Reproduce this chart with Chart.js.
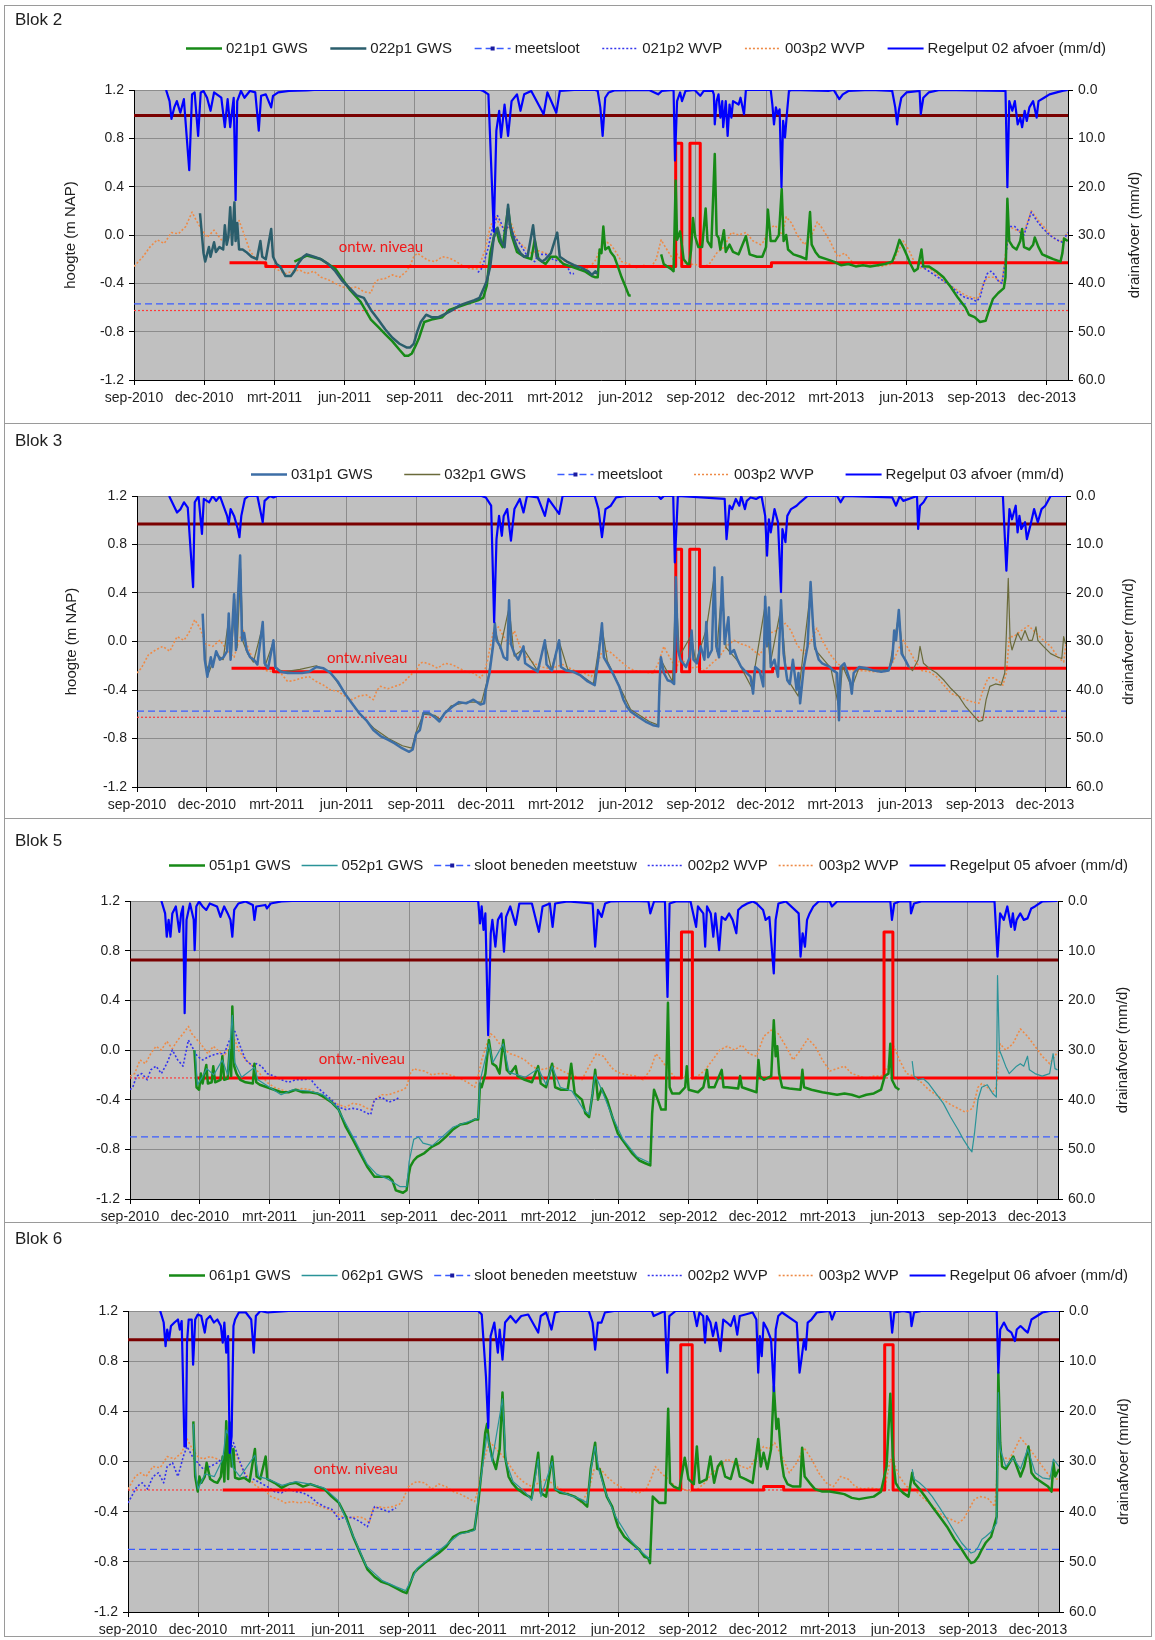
<!DOCTYPE html>
<html>
<head>
<meta charset="utf-8">
<title>Blok 2, 3, 5, 6 - grondwaterstand en drainafvoer</title>
<script src="https://cdn.jsdelivr.net/npm/chart.js@4.4.1/dist/chart.umd.min.js"></script>
<style>
  body { margin: 0; background: #fff; }
  #page { position: relative; width: 1155px; height: 1640px; overflow: hidden; }
  #page canvas { position: absolute; left: 0; }
  .frame { position: absolute; border: 1px solid #9a9a9a; box-sizing: border-box; pointer-events: none; }
  .sep { position: absolute; height: 1px; background: #9a9a9a; }
</style>
</head>
<body>
<div id="page"></div>
<script>
// x values are months counted from 1 sep 2010 (3 = dec-2010, 6 = mrt-2011, ...)
const MONTH_TICKS = [0, 3, 6, 9, 12, 15, 18, 21, 24, 27, 30, 33, 36, 39];
const MONTH_LABELS = ['sep-2010', 'dec-2010', 'mrt-2011', 'jun-2011', 'sep-2011', 'dec-2011', 'mrt-2012',
  'jun-2012', 'sep-2012', 'dec-2012', 'mrt-2013', 'jun-2013', 'sep-2013', 'dec-2013'];
const X_MAX = 39.9;
const LEVEL_TICKS = [-1.2, -0.8, -0.4, 0, 0.4, 0.8, 1.2];   // hoogte (m NAP)
const FLOW_TICKS = [0, 10, 20, 30, 40, 50, 60];             // drainafvoer (mm/d)

// ---------- Blok 2 ----------
const B2_SLOOT = -0.57;
const B2_RED_DOT = -0.625;
const B2_UPPER = 0.99;
const b2_gws021 = [[6.85,-0.22],[7.38,-0.17],[7.99,-0.20],[8.60,-0.28],[9.21,-0.45],[9.67,-0.55],[10.12,-0.70],[10.43,-0.76],[10.73,-0.82],[11.04,-0.88],[11.34,-0.95],[11.57,-1.0],[11.72,-1.0],[11.87,-0.98],[12.02,-0.92],[12.18,-0.85],[12.40,-0.72],[12.71,-0.70],[13.17,-0.68],[13.47,-0.62],[13.77,-0.60],[14.23,-0.57],[14.69,-0.54],[14.92,-0.52],[15.07,-0.42],[15.22,-0.15],[15.37,-0.02],[15.48,0.05],[15.60,-0.05],[15.75,-0.10],[15.98,0.22],[16.13,0.0],[16.36,-0.14],[16.67,-0.18],[16.97,-0.20],[17.12,-0.04],[17.28,-0.20],[17.58,-0.24],[17.81,-0.18],[18.04,-0.18],[18.34,-0.24],[18.65,-0.26],[18.95,-0.28],[19.25,-0.30],[19.56,-0.34],[19.71,-0.35],[19.81,-0.35],[19.89,-0.12],[19.97,-0.15],[20.05,0.07],[20.13,-0.12],[20.28,-0.10],[20.36,-0.14],[20.52,-0.18],[20.67,-0.26],[20.83,-0.35],[20.98,-0.42],[21.14,-0.50],[21.22,-0.50],[21.5,null],
  [22.52,-0.16],[22.63,-0.24],[22.78,-0.26],[22.94,-0.28],[23.05,-0.30],[23.14,0.45],[23.20,-0.04],[23.33,0.03],[23.48,-0.20],[23.64,-0.24],[23.72,-0.24],[23.80,-0.12],[23.88,0.14],[23.98,-0.02],[24.11,-0.10],[24.27,-0.10],[24.42,0.22],[24.50,-0.05],[24.66,-0.10],[24.81,0.67],[24.89,0.0],[24.97,-0.02],[25.05,-0.12],[25.20,0.04],[25.28,-0.14],[25.44,-0.08],[25.59,-0.14],[25.83,-0.16],[26.14,-0.01],[26.30,-0.16],[26.61,-0.18],[26.84,-0.18],[27.00,-0.10],[27.08,0.21],[27.20,-0.05],[27.39,-0.05],[27.55,0.0],[27.67,0.38],[27.75,-0.05],[27.86,0.0],[27.94,-0.12],[28.17,-0.16],[28.48,-0.18],[28.72,-0.20],[28.88,0.19],[28.95,-0.08],[29.11,-0.14],[29.27,-0.18],[29.58,-0.20],[29.89,-0.22],[30.20,-0.25],[30.52,-0.24],[30.83,-0.26],[31.14,-0.25],[31.45,-0.26],[31.77,-0.25],[32.08,-0.24],[32.39,-0.22],[32.55,-0.14],[32.70,-0.04],[32.86,-0.10],[33.02,-0.17],[33.17,-0.24],[33.33,-0.30],[33.48,-0.28],[33.64,-0.12],[33.72,-0.26],[33.95,-0.26],[34.27,-0.30],[34.58,-0.35],[34.89,-0.43],[35.20,-0.52],[35.52,-0.60],[35.67,-0.66],[35.91,-0.68],[36.14,-0.72],[36.38,-0.71],[36.53,-0.62],[36.69,-0.53],[36.92,-0.48],[37.16,-0.44],[37.23,-0.35],[37.31,0.30],[37.39,-0.05],[37.55,-0.10],[37.70,-0.12],[37.86,-0.05],[37.94,0.05],[38.02,-0.10],[38.25,-0.12],[38.41,-0.08],[38.48,-0.02],[38.64,-0.10],[38.80,-0.16],[39.03,-0.18],[39.27,-0.20],[39.58,-0.22],[39.66,-0.15],[39.73,-0.03],[39.89,-0.05]];
const b2_gws022 = [[2.82,0.18],[2.97,-0.15],[3.04,-0.22],[3.20,-0.10],[3.27,-0.18],[3.42,-0.06],[3.50,-0.14],[3.65,-0.10],[3.81,-0.12],[3.88,0.08],[3.96,-0.08],[4.03,-0.02],[4.11,0.23],[4.19,-0.08],[4.29,0.27],[4.34,-0.05],[4.41,0.10],[4.49,-0.12],[4.64,-0.12],[4.79,-0.14],[5.02,-0.18],[5.25,-0.20],[5.40,-0.05],[5.48,-0.18],[5.63,-0.20],[5.86,0.05],[5.94,-0.18],[6.09,-0.24],[6.24,-0.26],[6.47,-0.34],[6.70,-0.34],[6.85,-0.30],[7.00,-0.24],[7.23,-0.18],[7.38,-0.16],[7.69,-0.18],[7.99,-0.20],[8.30,-0.24],[8.60,-0.30],[8.90,-0.38],[9.21,-0.44],[9.51,-0.50],[9.82,-0.52],[10.12,-0.62],[10.43,-0.70],[10.73,-0.78],[11.04,-0.85],[11.34,-0.90],[11.64,-0.93],[11.80,-0.93],[11.95,-0.90],[12.10,-0.80],[12.25,-0.72],[12.48,-0.66],[12.71,-0.68],[13.01,-0.68],[13.32,-0.65],[13.62,-0.62],[13.93,-0.58],[14.23,-0.56],[14.54,-0.54],[14.76,-0.52],[14.92,-0.45],[15.07,-0.38],[15.22,-0.26],[15.37,-0.02],[15.53,0.06],[15.68,-0.05],[15.83,-0.10],[15.98,0.25],[16.06,0.08],[16.21,-0.02],[16.36,-0.10],[16.51,-0.15],[16.67,-0.18],[16.82,-0.17],[17.05,0.08],[17.20,-0.18],[17.43,-0.22],[17.58,-0.20],[17.81,-0.15],[18.08,0.02],[18.19,-0.18],[18.49,-0.22],[18.80,-0.25],[19.10,-0.27],[19.41,-0.30],[19.56,-0.33],[19.71,-0.30],[19.80,-0.32]];
const b2_wvp021 = [[14.69,-0.31],[14.84,-0.28],[14.99,-0.20],[15.14,-0.10],[15.30,0.05],[15.53,0.16],[15.68,0.10],[15.83,0.02],[16.06,0.10],[16.21,0.0],[16.51,-0.08],[16.82,-0.18],[17.12,-0.22],[17.28,-0.16],[17.58,-0.16],[17.88,-0.20],[18.19,-0.22],[18.49,-0.25],[18.65,-0.32],[18.80,-0.32],[26.0,null],
  [33.48,-0.24],[33.80,-0.28],[34.27,-0.34],[34.58,-0.38],[34.89,-0.42],[35.20,-0.48],[35.52,-0.52],[35.83,-0.53],[35.98,-0.55],[36.14,-0.52],[36.30,-0.40],[36.45,-0.32],[36.61,-0.30],[36.77,-0.33],[36.92,-0.38],[37.08,-0.40],[37.23,-0.20],[37.39,0.07],[37.63,0.07],[37.86,0.02],[38.02,0.0],[38.33,0.19],[38.56,0.12],[38.80,0.06],[39.11,0.0],[39.42,-0.04],[39.66,-0.06],[39.89,0.02]];
const b2_wvp003 = [[0,-0.26],[0.38,-0.18],[0.68,-0.10],[0.99,-0.04],[1.29,-0.07],[1.60,0.02],[1.90,0.01],[2.21,0.07],[2.48,0.19],[2.66,0.12],[2.82,0.07],[3.12,-0.02],[3.42,0.04],[3.73,-0.04],[4.03,-0.02],[4.34,0.04],[4.49,0.12],[4.64,0.04],[4.95,-0.13],[5.25,-0.21],[5.56,-0.24],[5.86,-0.26],[6.16,-0.29],[6.47,-0.32],[6.77,-0.30],[7.08,-0.29],[7.38,-0.32],[7.69,-0.30],[7.99,-0.35],[8.30,-0.37],[8.60,-0.40],[8.90,-0.43],[9.21,-0.44],[9.51,-0.43],[9.82,-0.47],[10.12,-0.48],[10.27,-0.40],[10.43,-0.37],[10.73,-0.36],[11.04,-0.33],[11.34,-0.35],[11.64,-0.30],[11.80,-0.25],[11.95,-0.18],[12.10,-0.15],[12.25,-0.17],[12.56,-0.21],[12.86,-0.22],[13.17,-0.18],[13.47,-0.19],[13.77,-0.22],[14.08,-0.26],[14.38,-0.28],[14.69,-0.28],[14.99,-0.13],[15.22,0.07],[15.45,0.16],[15.60,0.09],[15.91,0.04],[16.13,0.09],[16.36,-0.04],[16.67,-0.10],[16.97,-0.15],[17.28,-0.13],[17.58,-0.15],[17.88,-0.18],[18.19,-0.21],[18.49,-0.22],[18.80,-0.25],[19.10,-0.26],[19.41,-0.28],[19.71,-0.21],[20.02,-0.07],[20.20,-0.06],[20.36,-0.08],[20.52,-0.12],[20.83,-0.22],[21.14,-0.24],[21.45,-0.27],[21.77,-0.25],[22.08,-0.27],[22.31,-0.20],[22.52,-0.04],[22.70,-0.10],[23.02,-0.20],[23.17,-0.15],[23.33,-0.20],[23.48,-0.22],[23.64,-0.25],[23.95,-0.24],[24.27,-0.27],[24.58,-0.24],[24.89,-0.15],[25.20,-0.10],[25.52,0.02],[25.83,0.0],[26.14,0.02],[26.45,-0.05],[26.77,-0.08],[26.92,-0.05],[27.08,0.05],[27.39,0.08],[27.70,0.0],[27.86,0.15],[28.09,0.10],[28.33,0.0],[28.64,-0.08],[28.95,0.0],[29.19,0.11],[29.42,0.05],[29.73,-0.05],[30.05,-0.18],[30.36,-0.15],[30.67,-0.22],[30.98,-0.25],[31.45,-0.25],[31.92,-0.26],[32.39,-0.24],[32.63,-0.14],[32.86,-0.05],[33.09,-0.12],[33.33,-0.22],[33.64,-0.28],[33.95,-0.27],[34.27,-0.32],[34.58,-0.38],[34.89,-0.42],[35.20,-0.46],[35.52,-0.50],[35.83,-0.52],[36.06,-0.52],[36.30,-0.40],[36.45,-0.35],[36.77,-0.35],[37.08,-0.40],[37.23,-0.15],[37.39,0.07],[37.70,0.04],[38.02,0.02],[38.33,0.20],[38.64,0.12],[38.95,0.05],[39.27,-0.02],[39.58,-0.06],[39.89,0.02]];
const b2_flow = [[1.37,0],[1.52,2.3],[1.60,6.0],[1.72,3.6],[1.83,2.3],[1.98,4.7],[2.13,1.9],[2.36,16.6],[2.48,0.9],[2.59,0.5],[2.74,9.5],[2.85,0.5],[2.97,0.2],[3.12,1.6],[3.27,4.3],[3.42,0.5],[3.73,1.6],[3.88,7.7],[4.00,1.9],[4.11,7.7],[4.19,4.3],[4.26,1.6],[4.34,22.8],[4.41,2.3],[4.57,0.2],[4.72,1.6],[4.95,0.2],[5.18,0.5],[5.33,8.4],[5.43,1.2],[5.63,0.9],[5.86,3.6],[5.94,1.2],[6.16,0.5],[6.62,0.2],[7.38,0.1],[7.69,0],[14.80,0],[14.92,0.2],[15.14,0.9],[15.37,29.3],[15.48,8.4],[15.60,4.3],[15.68,9.8],[15.83,3.0],[15.98,9.5],[16.13,2.3],[16.36,0.9],[16.51,4.3],[16.67,0.9],[16.97,0.2],[17.50,5.0],[17.66,0.5],[18.04,4.7],[18.19,0.2],[18.80,0],[19.70,0],[19.81,0.2],[19.92,3.6],[20.02,9.5],[20.13,1.6],[20.28,0.5],[20.52,0.1],[22.00,0],[22.23,0.5],[22.39,0.9],[22.55,0.2],[23.05,0],[23.11,14.6],[23.20,2.3],[23.33,0.5],[23.41,2.3],[23.56,0.2],[23.95,0],[24.19,1.2],[24.34,0.2],[24.72,0.2],[24.77,0.9],[24.81,7.1],[24.89,2.3],[24.97,0.9],[25.05,5.7],[25.13,2.3],[25.17,7.7],[25.28,2.3],[25.36,9.5],[25.44,3.0],[25.52,5.7],[25.59,2.3],[25.83,3.0],[25.91,1.6],[26.06,5.0],[26.14,0],[27.20,0],[27.27,3.0],[27.34,7.1],[27.42,3.6],[27.50,5.0],[27.58,4.0],[27.66,20.1],[27.73,6.4],[27.81,9.8],[27.89,5.0],[27.98,0.2],[28.09,0],[29.66,0.2],[29.89,0],[30.13,1.9],[30.28,0.9],[30.52,0.2],[31.45,0],[32.39,0.2],[32.52,3.6],[32.60,7.1],[32.67,4.3],[32.78,1.6],[33.00,0.5],[33.56,0.2],[33.61,5.0],[33.72,1.6],[33.95,0.5],[34.42,0],[37.23,0.2],[37.31,20.1],[37.39,2.3],[37.52,4.3],[37.63,2.3],[37.75,7.1],[37.86,5.7],[37.94,7.7],[38.05,4.3],[38.14,6.4],[38.25,3.6],[38.41,2.3],[38.56,5.7],[38.64,2.3],[38.88,1.6],[39.11,0.9],[39.42,0.5],[39.66,0.2],[39.89,0]];
const b2_ontw = [[4.08,-0.23],[5.63,-0.23],[5.63,-0.26],[23.14,-0.26],[23.14,0.76],[23.40,0.76],[23.40,-0.26],[23.75,-0.26],[23.75,0.76],[24.19,0.76],[24.19,-0.26],[27.23,-0.26],[27.23,-0.23],[39.9,-0.23]];

// ---------- Blok 3 ----------
const B3_SLOOT = -0.575;
const B3_RED_DOT = -0.625;
const B3_UPPER = 0.97;
const b3_gws031 = [[2.82,0.23],[2.91,-0.15],[3.02,-0.29],[3.17,-0.13],[3.25,-0.21],[3.40,-0.08],[3.56,-0.15],[3.71,-0.13],[3.87,-0.08],[3.94,0.23],[4.02,-0.15],[4.17,0.39],[4.25,-0.07],[4.33,0.34],[4.43,0.71],[4.51,0.01],[4.60,0.07],[4.71,-0.07],[4.86,-0.13],[5.02,-0.15],[5.17,-0.19],[5.40,0.16],[5.48,-0.18],[5.63,-0.22],[5.86,0.01],[5.94,-0.21],[6.17,-0.25],[6.47,-0.26],[6.78,-0.26],[7.09,-0.26],[7.39,-0.25],[7.70,-0.21],[8.01,-0.22],[8.31,-0.26],[8.62,-0.33],[8.93,-0.43],[9.23,-0.51],[9.54,-0.59],[9.85,-0.65],[10.15,-0.73],[10.46,-0.78],[10.77,-0.81],[11.07,-0.84],[11.38,-0.88],[11.69,-0.91],[11.84,-0.89],[11.99,-0.76],[12.15,-0.73],[12.30,-0.59],[12.53,-0.59],[12.76,-0.62],[12.99,-0.66],[13.22,-0.59],[13.53,-0.54],[13.83,-0.50],[14.14,-0.51],[14.45,-0.48],[14.75,-0.52],[14.91,-0.51],[14.98,-0.40],[15.14,-0.26],[15.29,-0.04],[15.37,0.15],[15.44,0.01],[15.60,-0.04],[15.75,-0.13],[15.90,-0.15],[15.98,0.34],[16.06,-0.02],[16.21,-0.10],[16.37,-0.15],[16.60,-0.04],[16.67,-0.18],[16.90,-0.21],[17.21,-0.25],[17.52,0.01],[17.59,-0.19],[17.82,-0.24],[18.13,0.01],[18.21,-0.21],[18.44,-0.24],[18.74,-0.25],[19.05,-0.28],[19.36,-0.33],[19.66,-0.36],[19.82,-0.13],[19.97,0.15],[20.05,-0.13],[20.20,-0.18],[20.43,-0.26],[20.71,-0.37],[20.89,-0.48],[21.05,-0.54],[21.21,-0.58],[21.52,-0.62],[21.84,-0.66],[22.16,-0.69],[22.39,-0.70],[22.44,-0.37],[22.50,-0.13],[22.63,-0.26],[22.79,-0.32],[22.95,-0.33],[23.07,-0.35],[23.14,0.53],[23.23,-0.07],[23.34,-0.15],[23.58,-0.21],[23.74,-0.13],[23.82,0.09],[23.90,-0.15],[24.05,-0.18],[24.21,-0.04],[24.37,-0.15],[24.45,0.16],[24.53,-0.13],[24.69,-0.07],[24.80,0.61],[24.88,-0.04],[25.00,-0.13],[25.13,0.53],[25.24,-0.02],[25.40,0.20],[25.48,-0.10],[25.64,-0.07],[25.79,-0.15],[25.95,-0.21],[26.19,-0.26],[26.35,-0.29],[26.46,-0.43],[26.55,-0.21],[26.74,-0.24],[26.90,-0.37],[26.98,0.37],[27.06,-0.04],[27.14,0.28],[27.22,-0.21],[27.38,-0.15],[27.53,-0.29],[27.66,0.34],[27.77,-0.10],[27.93,-0.32],[28.04,-0.35],[28.17,-0.15],[28.33,-0.40],[28.41,-0.26],[28.48,-0.51],[28.64,-0.21],[28.80,-0.04],[28.93,0.49],[29.04,0.12],[29.12,-0.04],[29.28,-0.15],[29.43,-0.18],[29.75,-0.21],[29.91,-0.24],[30.07,-0.26],[30.15,-0.65],[30.22,-0.21],[30.38,-0.18],[30.62,-0.32],[30.70,-0.43],[30.78,-0.26],[31.02,-0.21],[31.33,-0.22],[31.65,-0.24],[31.96,-0.25],[32.28,-0.24],[32.44,-0.15],[32.52,0.09],[32.60,0.01],[32.72,0.26],[32.84,-0.10],[32.99,-0.15],[33.15,-0.21]];
const b3_gws032 = [[2.82,0.20],[2.95,-0.18],[3.10,-0.25],[3.40,-0.10],[3.70,-0.15],[3.95,0.20],[4.05,-0.12],[4.20,0.35],[4.30,-0.05],[4.45,0.60],[4.55,0.0],[4.75,-0.10],[5.00,-0.17],[5.40,0.13],[5.50,-0.20],[5.86,0.0],[5.95,-0.22],[6.30,-0.25],[7.00,-0.23],[7.70,-0.20],[8.30,-0.25],[8.90,-0.42],[9.50,-0.58],[10.20,-0.72],[10.80,-0.80],[11.40,-0.86],[11.80,-0.88],[12.00,-0.74],[12.30,-0.60],[12.80,-0.61],[13.00,-0.64],[13.50,-0.53],[14.20,-0.50],[14.80,-0.50],[15.10,-0.28],[15.37,0.10],[15.60,-0.06],[15.98,0.28],[16.20,-0.12],[16.60,-0.06],[17.20,-0.24],[17.52,0.0],[17.80,-0.23],[18.13,0.0],[18.50,-0.23],[19.00,-0.27],[19.60,-0.35],[19.97,0.12],[20.20,-0.16],[20.70,-0.36],[21.20,-0.56],[22.00,-0.66],[22.39,-0.69],[22.50,-0.15],[23.00,-0.33],[23.14,0.45],[23.30,-0.12],[23.80,0.05],[24.00,-0.17],[24.45,0.10],[24.80,0.55],[24.90,-0.08],[25.13,0.45],[25.30,-0.05],[25.80,-0.16],[26.40,-0.38],[26.98,0.30],[27.20,-0.18],[27.66,0.28],[27.90,-0.30],[28.40,-0.45],[28.93,0.42],[29.10,-0.06],[29.80,-0.22],[30.15,-0.55],[30.30,-0.20],[30.70,-0.38],[31.00,-0.22],[31.60,-0.24],[32.30,-0.23],[32.72,0.22],[32.90,-0.12],[33.15,-0.21],[33.31,-0.24],[33.55,-0.15],[33.63,-0.04],[33.78,-0.18],[34.02,-0.22],[34.34,-0.26],[34.66,-0.32],[34.97,-0.39],[35.29,-0.45],[35.60,-0.54],[35.92,-0.61],[36.16,-0.66],[36.32,-0.65],[36.47,-0.48],[36.63,-0.37],[36.87,-0.35],[37.11,-0.36],[37.27,-0.26],[37.34,0.07],[37.42,0.52],[37.50,0.01],[37.58,-0.07],[37.82,0.07],[37.98,0.01],[38.14,0.09],[38.30,0.01],[38.45,0.01],[38.61,0.12],[38.69,0.01],[38.93,-0.04],[39.24,-0.10],[39.56,-0.13],[39.72,-0.14],[39.80,0.04],[39.88,-0.02]];
const b3_wvp003 = [[0,-0.26],[0.18,-0.22],[0.49,-0.11],[0.80,-0.07],[1.10,-0.04],[1.41,-0.08],[1.72,0.04],[2.02,0.01],[2.25,0.08],[2.48,0.18],[2.71,0.11],[2.94,-0.02],[3.25,-0.04],[3.56,0.01],[3.87,-0.07],[4.17,-0.13],[4.33,-0.02],[4.56,0.09],[4.71,-0.02],[4.94,-0.13],[5.25,-0.21],[5.55,-0.24],[5.86,-0.25],[6.17,-0.26],[6.47,-0.33],[6.78,-0.32],[7.09,-0.30],[7.39,-0.29],[7.70,-0.33],[8.01,-0.36],[8.31,-0.40],[8.62,-0.41],[8.93,-0.45],[9.23,-0.48],[9.54,-0.45],[9.85,-0.44],[10.15,-0.48],[10.31,-0.40],[10.46,-0.37],[10.77,-0.39],[11.07,-0.37],[11.38,-0.35],[11.69,-0.29],[11.84,-0.26],[11.99,-0.24],[12.15,-0.18],[12.30,-0.17],[12.61,-0.19],[12.91,-0.22],[13.22,-0.18],[13.53,-0.19],[13.83,-0.22],[14.14,-0.25],[14.45,-0.26],[14.75,-0.30],[14.91,-0.26],[15.06,-0.15],[15.29,0.07],[15.52,0.12],[15.75,0.04],[15.98,-0.02],[16.21,0.09],[16.44,-0.04],[16.75,-0.13],[17.06,-0.18],[17.36,-0.21],[17.67,-0.22],[17.98,-0.21],[18.28,-0.19],[18.59,-0.22],[18.90,-0.25],[19.20,-0.26],[19.51,-0.29],[19.74,-0.21],[19.97,-0.08],[20.28,-0.08],[20.58,-0.13],[21.05,-0.21],[21.36,-0.24],[21.68,-0.25],[22.16,-0.26],[22.39,-0.18],[22.63,-0.04],[22.79,-0.10],[23.03,-0.18],[23.18,-0.21],[23.34,-0.14],[23.58,-0.18],[23.74,-0.22],[24.05,-0.21],[24.37,-0.24],[24.69,-0.18],[25.00,-0.13],[25.32,-0.04],[25.64,0.01],[25.95,-0.02],[26.27,-0.04],[26.51,-0.08],[26.74,-0.11],[26.98,-0.04],[27.14,0.07],[27.38,0.08],[27.61,0.12],[27.85,0.15],[28.09,0.09],[28.33,-0.02],[28.64,-0.10],[28.96,0.01],[29.20,0.11],[29.43,0.01],[29.75,-0.10],[30.07,-0.18],[30.38,-0.22],[30.70,-0.24],[31.17,-0.24],[31.65,-0.25],[32.12,-0.25],[32.44,-0.18],[32.76,-0.04],[32.91,0.01],[33.07,-0.04],[33.39,-0.15],[33.71,-0.24],[34.02,-0.25],[34.34,-0.29],[34.66,-0.36],[34.97,-0.43],[35.29,-0.45],[35.60,-0.48],[35.92,-0.50],[36.16,-0.51],[36.32,-0.41],[36.55,-0.30],[36.79,-0.30],[37.03,-0.33],[37.19,-0.36],[37.34,-0.26],[37.47,0.04],[37.66,0.04],[37.98,0.09],[38.29,0.13],[38.61,0.07],[38.93,0.01],[39.24,-0.04],[39.56,-0.13],[39.80,-0.17],[39.90,-0.02]];
const b3_flow = [[1.38,0],[1.72,3.4],[1.87,2.7],[2.02,1.3],[2.18,2.4],[2.41,18.8],[2.48,1.3],[2.64,0],[2.79,7.8],[2.87,0.6],[3.10,1.3],[3.25,0],[3.40,1.0],[3.56,0],[3.71,2.0],[3.87,4.1],[3.94,5.8],[4.02,2.7],[4.17,4.1],[4.33,6.8],[4.40,8.5],[4.48,4.1],[4.63,0.6],[4.79,0],[5.17,0],[5.40,5.4],[5.48,1.0],[5.71,0],[5.86,0.3],[6.01,0],[14.80,0],[14.98,0.3],[15.21,2.0],[15.34,26.0],[15.44,8.9],[15.55,4.1],[15.67,8.2],[15.75,4.1],[15.90,2.7],[16.06,9.2],[16.21,2.7],[16.44,0.6],[16.60,3.4],[16.75,0],[17.21,0.3],[17.52,4.1],[17.67,0.6],[18.13,3.7],[18.28,0],[19.66,0],[19.82,2.7],[19.97,8.5],[20.12,2.7],[20.35,2.0],[20.58,0.3],[21.00,0],[22.39,0],[22.50,0.6],[22.63,0],[23.03,0],[23.10,13.7],[23.23,0],[25.24,0.6],[25.32,8.9],[25.45,2.0],[25.56,2.7],[25.72,0.6],[25.87,2.0],[25.95,0],[26.11,2.7],[26.19,1.0],[26.35,0.3],[26.59,0.6],[26.82,0],[26.98,4.1],[27.06,12.3],[27.14,4.8],[27.22,7.5],[27.38,2.7],[27.53,5.4],[27.66,19.8],[27.72,6.8],[27.85,9.5],[27.93,4.1],[28.09,2.7],[28.33,2.0],[28.48,1.3],[28.80,0],[30.07,0],[30.22,1.3],[30.38,0],[32.44,0.3],[32.60,2.0],[32.76,0],[32.91,1.0],[33.50,0],[33.55,6.8],[33.63,2.0],[33.78,1.3],[33.94,0],[37.19,0],[37.34,15.4],[37.47,2.7],[37.58,4.8],[37.74,2.0],[37.82,7.5],[37.90,4.1],[37.98,6.8],[38.14,5.4],[38.22,8.9],[38.37,6.1],[38.53,2.7],[38.69,5.4],[38.85,2.7],[39.01,2.0],[39.24,0],[39.90,0]];
const b3_ontw = [[4.06,-0.22],[5.86,-0.22],[5.86,-0.25],[23.14,-0.25],[23.14,0.76],[23.39,0.76],[23.39,-0.25],[23.74,-0.25],[23.74,0.76],[24.16,0.76],[24.16,-0.25],[27.30,-0.25],[27.30,-0.22],[39.9,-0.22]];

// ---------- Blok 5 ----------
const B5_SLOOT = -0.70;
const B5_RED_DOT = -0.225;
const B5_UPPER = 0.725;
const b5_gws051 = [[2.77,0.0],[2.86,-0.30],[2.97,-0.32],[3.05,-0.19],[3.12,-0.27],[3.28,-0.12],[3.35,-0.27],[3.51,-0.26],[3.58,-0.13],[3.66,-0.26],[3.89,-0.24],[3.97,-0.05],[4.05,-0.24],[4.20,-0.23],[4.28,0.0],[4.35,-0.21],[4.40,0.35],[4.48,-0.13],[4.58,-0.19],[4.74,-0.24],[4.97,-0.26],[5.28,-0.27],[5.35,-0.11],[5.43,-0.26],[5.58,-0.28],[5.89,-0.30],[6.20,-0.32],[6.51,-0.34],[6.82,-0.34],[7.12,-0.32],[7.43,-0.34],[7.74,-0.34],[8.05,-0.35],[8.35,-0.38],[8.66,-0.42],[8.97,-0.48],[9.28,-0.62],[9.58,-0.72],[9.89,-0.83],[10.20,-0.94],[10.51,-1.02],[10.82,-1.02],[11.12,-1.02],[11.28,-1.05],[11.43,-1.13],[11.58,-1.14],[11.74,-1.15],[11.89,-1.13],[11.97,-1.02],[12.05,-0.94],[12.20,-0.89],[12.35,-0.86],[12.66,-0.83],[12.97,-0.78],[13.28,-0.75],[13.58,-0.70],[13.89,-0.64],[14.20,-0.60],[14.51,-0.59],[14.82,-0.56],[14.97,-0.56],[15.05,-0.27],[15.12,-0.30],[15.28,-0.19],[15.43,0.08],[15.58,-0.11],[15.74,-0.13],[15.89,-0.19],[16.05,0.08],[16.20,-0.16],[16.35,-0.19],[16.58,-0.13],[16.66,-0.21],[16.97,-0.24],[17.28,-0.26],[17.55,-0.13],[17.66,-0.27],[17.89,-0.30],[18.15,-0.11],[18.28,-0.30],[18.51,-0.32],[18.82,-0.32],[18.97,-0.11],[19.12,-0.35],[19.43,-0.40],[19.58,-0.51],[19.74,-0.54],[19.89,-0.35],[20.00,-0.16],[20.12,-0.40],[20.28,-0.31],[20.51,-0.40],[20.74,-0.54],[20.97,-0.67],[21.27,-0.75],[21.58,-0.83],[21.90,-0.89],[22.13,-0.91],[22.37,-0.93],[22.45,-0.51],[22.53,-0.32],[22.69,-0.40],[22.84,-0.48],[23.03,-0.48],[23.13,0.38],[23.20,-0.30],[23.31,-0.35],[23.63,-0.35],[23.87,-0.30],[23.94,-0.13],[24.02,-0.32],[24.42,-0.34],[24.65,-0.30],[24.81,-0.16],[24.89,-0.30],[25.13,-0.30],[25.44,-0.16],[25.52,-0.30],[25.68,-0.30],[26.15,-0.31],[26.23,-0.21],[26.31,-0.30],[26.62,-0.32],[26.94,-0.34],[27.02,-0.08],[27.09,-0.21],[27.25,-0.24],[27.57,-0.21],[27.68,0.24],[27.76,-0.05],[27.83,0.03],[27.91,-0.19],[28.04,-0.30],[28.35,-0.31],[28.83,-0.32],[28.91,-0.16],[28.98,-0.30],[29.30,-0.32],[29.77,-0.34],[30.09,-0.35],[30.40,-0.36],[30.72,-0.35],[31.03,-0.36],[31.35,-0.38],[31.66,-0.36],[31.98,-0.35],[32.29,-0.32],[32.45,-0.21],[32.61,-0.19],[32.69,0.05],[32.76,-0.24],[32.92,-0.30],[33.08,-0.32]];
const b5_gws052 = [[2.80,0.0],[2.90,-0.28],[3.10,-0.22],[3.30,-0.15],[3.60,-0.20],[3.97,-0.08],[4.20,-0.20],[4.40,0.28],[4.50,-0.10],[4.80,-0.22],[5.35,-0.14],[5.50,-0.24],[6.00,-0.30],[6.50,-0.36],[7.00,-0.32],[7.70,-0.33],[8.30,-0.36],[8.90,-0.46],[9.30,-0.60],[9.70,-0.74],[10.20,-0.92],[10.60,-1.00],[11.10,-1.04],[11.60,-1.10],[11.90,-1.10],[12.00,-0.90],[12.20,-0.72],[12.40,-0.70],[12.60,-0.75],[13.00,-0.77],[13.30,-0.72],[13.90,-0.62],[14.50,-0.58],[14.97,-0.55],[15.05,-0.25],[15.43,0.05],[15.60,-0.10],[16.05,0.05],[16.30,-0.18],[17.00,-0.22],[17.55,-0.15],[17.90,-0.28],[18.15,-0.13],[18.50,-0.30],[19.00,-0.33],[19.50,-0.48],[19.75,-0.52],[20.00,-0.20],[20.30,-0.33],[20.70,-0.52],[21.20,-0.72],[21.80,-0.86],[22.37,-0.91],[28.0,null],
  [33.63,-0.09],[33.71,-0.21],[33.87,-0.24],[34.10,-0.23],[34.34,-0.27],[34.65,-0.35],[34.97,-0.43],[35.28,-0.54],[35.60,-0.64],[35.83,-0.72],[36.07,-0.79],[36.20,-0.82],[36.31,-0.67],[36.46,-0.40],[36.62,-0.30],[36.86,-0.28],[37.09,-0.35],[37.25,-0.38],[37.30,0.60],[37.38,0.0],[37.49,-0.05],[37.65,-0.13],[37.80,-0.19],[37.96,-0.16],[38.12,-0.13],[38.28,-0.11],[38.43,-0.13],[38.59,-0.05],[38.67,-0.16],[38.91,-0.19],[39.22,-0.21],[39.54,-0.19],[39.69,-0.03],[39.77,-0.15],[39.88,-0.16]];
const b5_wvp002 = [[0,-0.32],[0.12,-0.30],[0.28,-0.21],[0.51,-0.19],[0.74,-0.24],[0.89,-0.16],[1.12,-0.13],[1.35,-0.19],[1.58,-0.11],[1.82,0.0],[2.05,-0.08],[2.28,-0.13],[2.51,0.08],[2.66,0.03],[2.89,-0.05],[3.12,-0.08],[3.43,-0.05],[3.74,-0.03],[4.05,-0.03],[4.28,0.08],[4.51,0.15],[4.74,0.03],[4.97,-0.08],[5.28,-0.13],[5.43,-0.11],[5.66,-0.13],[5.89,-0.19],[6.20,-0.21],[6.51,-0.24],[6.82,-0.26],[7.12,-0.24],[7.43,-0.24],[7.74,-0.23],[8.05,-0.30],[8.35,-0.35],[8.66,-0.40],[8.97,-0.46],[9.28,-0.48],[9.58,-0.47],[9.89,-0.48],[10.20,-0.51],[10.35,-0.52],[10.51,-0.40],[10.82,-0.38],[11.12,-0.42],[11.43,-0.40],[11.58,-0.38]];
const b5_wvp003 = [[0,-0.21],[0.20,-0.19],[0.43,-0.08],[0.66,-0.11],[0.89,-0.03],[1.12,0.03],[1.35,0.0],[1.58,0.07],[1.82,0.01],[2.05,0.08],[2.28,0.13],[2.51,0.19],[2.66,0.13],[2.89,0.08],[3.12,0.03],[3.35,-0.03],[3.58,0.03],[3.82,-0.01],[4.05,-0.05],[4.28,0.03],[4.51,0.08],[4.66,0.0],[4.97,-0.08],[5.28,-0.13],[5.58,-0.19],[5.89,-0.26],[6.20,-0.30],[6.51,-0.32],[6.82,-0.34],[7.12,-0.32],[7.43,-0.31],[7.74,-0.32],[8.05,-0.35],[8.35,-0.39],[8.66,-0.42],[8.97,-0.44],[9.28,-0.46],[9.58,-0.43],[9.89,-0.44],[10.20,-0.47],[10.35,-0.48],[10.51,-0.40],[10.82,-0.36],[11.12,-0.36],[11.43,-0.34],[11.74,-0.32],[11.89,-0.30],[12.05,-0.19],[12.20,-0.15],[12.35,-0.16],[12.66,-0.17],[12.97,-0.20],[13.28,-0.19],[13.58,-0.19],[13.89,-0.21],[14.20,-0.23],[14.51,-0.26],[14.82,-0.30],[14.97,-0.21],[15.12,-0.08],[15.35,0.05],[15.51,0.13],[15.66,0.11],[15.89,0.05],[16.12,0.0],[16.35,-0.03],[16.66,-0.05],[16.97,-0.08],[17.28,-0.13],[17.58,-0.16],[17.89,-0.15],[18.20,-0.13],[18.51,-0.16],[18.82,-0.19],[19.12,-0.21],[19.43,-0.24],[19.74,-0.13],[20.05,-0.03],[20.35,-0.05],[20.66,-0.13],[20.80,-0.16],[21.11,-0.19],[21.43,-0.20],[21.74,-0.21],[22.06,-0.24],[22.37,-0.16],[22.61,-0.03],[22.84,-0.08],[23.16,-0.16],[23.47,-0.23],[23.79,-0.21],[24.10,-0.24],[24.42,-0.21],[24.73,-0.16],[25.05,-0.08],[25.36,0.0],[25.68,0.03],[25.99,0.0],[26.31,0.04],[26.62,-0.03],[26.94,-0.05],[27.25,0.11],[27.57,0.16],[27.88,0.13],[28.20,0.03],[28.51,-0.08],[28.83,0.0],[29.14,0.09],[29.46,0.03],[29.77,-0.08],[30.09,-0.17],[30.40,-0.15],[30.72,-0.13],[31.03,-0.19],[31.35,-0.21],[31.66,-0.23],[31.98,-0.21],[32.29,-0.21],[32.61,-0.13],[32.84,0.03],[33.08,-0.08],[33.39,-0.19],[33.71,-0.21],[34.02,-0.26],[34.34,-0.32],[34.65,-0.36],[34.97,-0.40],[35.28,-0.44],[35.60,-0.47],[35.91,-0.50],[36.23,-0.47],[36.46,-0.30],[36.62,-0.27],[36.86,-0.30],[37.09,-0.34],[37.25,-0.30],[37.41,0.05],[37.65,0.0],[37.96,0.05],[38.28,0.17],[38.59,0.11],[38.91,0.03],[39.22,-0.05],[39.54,-0.11],[39.77,-0.05],[39.88,-0.01]];
const b5_flow = [[1.35,0],[1.51,2.5],[1.58,7.2],[1.66,3.8],[1.74,7.2],[1.82,2.5],[1.97,1.1],[2.12,6.2],[2.20,2.5],[2.28,1.1],[2.35,22.6],[2.43,3.8],[2.58,0.5],[2.74,3.8],[2.78,9.9],[2.85,1.1],[2.97,0.1],[3.12,1.1],[3.28,1.8],[3.43,0.5],[3.74,1.1],[3.89,3.2],[4.05,1.1],[4.20,2.5],[4.32,3.8],[4.40,7.2],[4.48,1.8],[4.66,0.5],[4.97,0.1],[5.28,0.8],[5.35,3.8],[5.43,1.1],[5.82,0.8],[5.89,1.5],[6.05,0.5],[6.51,0.1],[6.97,0],[14.97,0],[15.05,4.5],[15.12,1.1],[15.20,5.8],[15.28,2.5],[15.40,27.0],[15.51,6.5],[15.58,3.8],[15.71,9.2],[15.82,3.8],[15.97,2.5],[16.08,10.2],[16.17,3.2],[16.35,1.1],[16.58,4.8],[16.74,0.5],[17.28,0.5],[17.58,6.2],[17.74,1.1],[18.05,0.5],[18.17,5.2],[18.28,0.5],[18.82,0.1],[19.89,0.5],[20.00,9.2],[20.12,1.8],[20.28,3.2],[20.43,0.5],[20.66,0.1],[21.50,0],[22.29,0.1],[22.37,2.5],[22.53,0.1],[23.00,0.1],[23.11,19.3],[23.20,0.5],[23.47,0.1],[24.10,0.1],[24.34,5.2],[24.42,1.1],[24.65,2.5],[24.73,9.2],[24.81,1.1],[24.97,2.5],[25.08,7.2],[25.17,2.5],[25.33,9.9],[25.44,3.2],[25.60,3.8],[25.76,2.5],[25.91,3.8],[26.07,6.5],[26.15,1.8],[26.31,1.1],[26.54,0.5],[26.78,0.1],[26.94,0.5],[27.22,1.8],[27.33,3.8],[27.49,3.2],[27.68,14.6],[27.76,3.8],[27.88,0.5],[28.20,0.1],[28.75,2.5],[28.83,11.2],[28.92,6.5],[29.02,9.2],[29.11,3.8],[29.22,2.5],[29.38,1.1],[29.61,0.1],[30.09,0.1],[30.18,1.1],[30.40,0.1],[32.69,0.1],[32.76,3.8],[32.86,0.5],[33.08,0.1],[33.55,0.1],[33.58,2.5],[33.71,0.5],[34.02,0.1],[37.17,0.1],[37.30,11.2],[37.41,2.5],[37.57,3.8],[37.72,1.1],[37.88,5.2],[37.96,2.5],[38.04,5.8],[38.12,3.8],[38.28,2.5],[38.43,3.8],[38.59,3.5],[38.75,1.5],[38.91,1.1],[39.22,0.1],[39.88,0]];
const b5_ontw = [[2.80,-0.225],[23.71,-0.225],[23.71,0.95],[24.18,0.95],[24.18,-0.225],[32.42,-0.225],[32.42,0.95],[32.80,0.95],[32.80,-0.225],[39.9,-0.225]];

// ---------- Blok 6 ----------
const B6_SLOOT = -0.70;
const B6_RED_DOT = -0.227;
const B6_UPPER = 0.97;
const b6_gws061 = [[2.80,0.32],[2.88,-0.12],[2.99,-0.24],[3.06,-0.12],[3.14,-0.17],[3.29,-0.12],[3.37,-0.01],[3.52,-0.14],[3.68,-0.16],[3.83,-0.17],[3.98,-0.12],[4.06,0.04],[4.13,-0.16],[4.21,0.32],[4.29,-0.14],[4.36,0.31],[4.44,-0.04],[4.52,0.10],[4.59,-0.13],[4.75,-0.14],[4.98,-0.13],[5.21,-0.16],[5.44,0.10],[5.51,-0.12],[5.67,-0.14],[5.90,0.04],[5.97,-0.14],[6.28,-0.17],[6.58,-0.21],[6.89,-0.18],[7.20,-0.17],[7.50,-0.20],[7.81,-0.18],[8.12,-0.20],[8.42,-0.22],[8.73,-0.28],[9.04,-0.33],[9.34,-0.44],[9.65,-0.60],[9.95,-0.73],[10.26,-0.86],[10.57,-0.92],[10.87,-0.96],[11.18,-0.98],[11.49,-1.01],[11.79,-1.04],[11.94,-1.05],[12.10,-0.97],[12.25,-0.89],[12.40,-0.86],[12.71,-0.81],[13.02,-0.77],[13.32,-0.73],[13.63,-0.68],[13.94,-0.60],[14.24,-0.57],[14.55,-0.56],[14.85,-0.54],[15.01,-0.33],[15.16,-0.06],[15.31,0.23],[15.39,0.30],[15.47,0.15],[15.62,0.02],[15.77,-0.06],[15.93,0.10],[16.05,0.55],[16.16,0.04],[16.31,-0.12],[16.46,-0.17],[16.69,-0.22],[17.00,-0.26],[17.30,-0.29],[17.58,0.07],[17.69,-0.25],[17.92,-0.28],[18.18,0.04],[18.30,-0.22],[18.53,-0.25],[18.84,-0.26],[19.14,-0.28],[19.45,-0.32],[19.68,-0.36],[19.83,-0.06],[20.02,0.15],[20.11,-0.06],[20.21,-0.06],[20.37,-0.17],[20.52,-0.28],[20.75,-0.36],[20.90,-0.46],[21.00,-0.52],[21.27,-0.60],[21.58,-0.65],[21.90,-0.70],[22.13,-0.76],[22.29,-0.77],[22.37,-0.81],[22.49,-0.28],[22.60,-0.30],[22.76,-0.33],[23.03,-0.33],[23.15,0.42],[23.23,-0.17],[23.39,-0.20],[23.63,-0.22],[23.86,0.03],[24.02,-0.14],[24.25,-0.18],[24.38,0.12],[24.49,-0.17],[24.80,-0.14],[24.96,0.04],[25.12,-0.17],[25.28,-0.04],[25.43,0.0],[25.59,-0.12],[25.83,-0.14],[26.06,0.02],[26.22,-0.12],[26.46,-0.14],[26.77,-0.17],[27.01,0.18],[27.12,-0.04],[27.24,0.07],[27.40,-0.06],[27.56,0.10],[27.68,0.60],[27.79,0.26],[27.87,0.34],[28.00,0.02],[28.11,-0.12],[28.26,-0.18],[28.50,-0.20],[28.81,-0.20],[28.89,0.11],[29.00,-0.12],[29.21,-0.17],[29.44,-0.22],[29.76,-0.24],[30.07,-0.24],[30.39,-0.25],[30.70,-0.26],[31.02,-0.29],[31.33,-0.30],[31.64,-0.29],[31.96,-0.28],[32.27,-0.24],[32.51,-0.04],[32.67,0.54],[32.78,0.04],[32.90,-0.17],[33.06,-0.22],[33.22,-0.25],[33.45,-0.28],[33.61,-0.09],[33.69,-0.17],[33.92,-0.22],[34.16,-0.28],[34.47,-0.36],[34.79,-0.44],[35.10,-0.52],[35.42,-0.62],[35.73,-0.70],[35.97,-0.77],[36.13,-0.81],[36.28,-0.80],[36.44,-0.76],[36.60,-0.70],[36.75,-0.65],[36.99,-0.60],[37.23,-0.44],[37.30,0.71],[37.38,0.15],[37.46,-0.04],[37.62,-0.06],[37.78,-0.01],[37.94,0.04],[38.09,-0.04],[38.25,-0.12],[38.41,-0.04],[38.59,0.12],[38.72,-0.09],[38.88,-0.13],[39.19,-0.17],[39.43,-0.20],[39.58,-0.24],[39.66,-0.01],[39.74,-0.12],[39.90,-0.06]];
const b6_gws062 = [[2.80,0.30],[2.90,-0.10],[3.00,-0.22],[3.30,-0.10],[3.70,-0.12],[4.06,0.02],[4.21,0.25],[4.36,0.20],[4.50,-0.05],[4.80,-0.12],[5.44,0.05],[5.60,-0.12],[6.00,-0.14],[6.60,-0.19],[7.20,-0.16],[7.80,-0.18],[8.40,-0.21],[9.00,-0.31],[9.60,-0.57],[10.20,-0.83],[10.90,-0.95],[11.50,-1.00],[11.90,-1.03],[12.10,-0.96],[12.40,-0.85],[13.00,-0.76],[13.60,-0.67],[14.20,-0.58],[14.85,-0.55],[15.00,-0.30],[15.39,0.22],[15.60,0.0],[16.05,0.50],[16.20,0.0],[16.50,-0.16],[17.00,-0.24],[17.30,-0.31],[17.58,0.02],[17.70,-0.28],[18.18,0.0],[18.30,-0.22],[18.80,-0.26],[19.40,-0.30],[19.68,-0.33],[19.85,-0.05],[20.02,0.12],[20.20,-0.08],[20.50,-0.26],[20.90,-0.44],[21.50,-0.62],[22.00,-0.72],[22.37,-0.78],[28.0,null],
  [33.61,-0.06],[33.69,-0.14],[33.92,-0.17],[34.16,-0.21],[34.47,-0.28],[34.79,-0.37],[35.10,-0.46],[35.42,-0.56],[35.73,-0.65],[35.97,-0.70],[36.13,-0.73],[36.28,-0.72],[36.44,-0.68],[36.60,-0.62],[36.75,-0.60],[36.99,-0.56],[37.23,-0.49],[37.30,0.55],[37.38,0.10],[37.62,-0.04],[37.94,0.03],[38.25,-0.06],[38.56,0.10],[38.88,-0.09],[39.19,-0.13],[39.51,-0.14],[39.66,0.02],[39.90,-0.04]];
const b6_wvp002 = [[0,-0.33],[0.15,-0.28],[0.38,-0.20],[0.61,-0.17],[0.84,-0.22],[1.07,-0.12],[1.30,-0.09],[1.53,-0.17],[1.68,-0.04],[1.91,-0.01],[2.14,-0.12],[2.37,0.04],[2.53,0.12],[2.76,0.04],[2.99,-0.01],[3.22,-0.06],[3.52,-0.04],[3.83,-0.01],[4.13,0.04],[4.36,0.07],[4.52,0.15],[4.75,0.02],[5.05,-0.12],[5.36,-0.14],[5.67,-0.17],[5.97,-0.20],[6.28,-0.24],[6.58,-0.25],[6.89,-0.22],[7.20,-0.24],[7.50,-0.25],[7.81,-0.28],[8.12,-0.33],[8.42,-0.36],[8.73,-0.38],[9.04,-0.46],[9.34,-0.44],[9.65,-0.45],[9.95,-0.48],[10.26,-0.52],[10.41,-0.44],[10.57,-0.36],[10.87,-0.38],[11.18,-0.40],[11.49,-0.37]];
const b6_wvp003 = [[0,-0.22],[0.31,-0.12],[0.54,-0.09],[0.77,-0.12],[1.07,-0.04],[1.38,-0.05],[1.68,0.04],[1.99,0.02],[2.30,0.07],[2.53,0.18],[2.76,0.10],[2.99,0.04],[3.22,0.02],[3.52,0.04],[3.83,0.02],[4.13,-0.01],[4.44,0.10],[4.67,0.04],[4.90,-0.06],[5.21,-0.14],[5.51,-0.20],[5.82,-0.22],[6.13,-0.28],[6.43,-0.30],[6.74,-0.33],[7.04,-0.32],[7.35,-0.33],[7.66,-0.32],[7.96,-0.34],[8.27,-0.36],[8.58,-0.38],[8.88,-0.41],[9.19,-0.44],[9.49,-0.45],[9.80,-0.44],[10.11,-0.45],[10.34,-0.49],[10.49,-0.38],[10.72,-0.36],[11.03,-0.37],[11.33,-0.36],[11.64,-0.34],[11.79,-0.30],[12.02,-0.20],[12.25,-0.17],[12.40,-0.16],[12.71,-0.17],[13.02,-0.22],[13.32,-0.18],[13.63,-0.20],[13.94,-0.24],[14.24,-0.26],[14.55,-0.29],[14.85,-0.32],[15.01,-0.22],[15.16,-0.06],[15.39,0.10],[15.54,0.15],[15.77,0.10],[16.08,0.04],[16.39,-0.04],[16.69,-0.12],[17.00,-0.17],[17.30,-0.20],[17.61,-0.17],[17.92,-0.14],[18.22,-0.18],[18.53,-0.22],[18.84,-0.25],[19.14,-0.28],[19.45,-0.33],[19.75,-0.22],[19.98,-0.06],[20.21,-0.05],[20.52,-0.12],[20.83,-0.17],[21.27,-0.22],[21.58,-0.24],[21.90,-0.25],[22.21,-0.22],[22.45,-0.12],[22.60,-0.04],[22.84,-0.09],[23.15,-0.14],[23.47,-0.20],[23.78,-0.22],[24.10,-0.24],[24.41,-0.22],[24.73,-0.17],[25.04,-0.09],[25.36,-0.04],[25.67,0.02],[25.98,-0.01],[26.30,-0.04],[26.61,-0.06],[26.93,0.04],[27.24,0.12],[27.48,0.10],[27.71,0.15],[28.03,0.04],[28.34,-0.09],[28.66,-0.01],[28.97,0.11],[29.29,0.02],[29.60,-0.09],[29.92,-0.17],[30.23,-0.20],[30.54,-0.12],[30.86,-0.14],[31.17,-0.20],[31.49,-0.22],[31.80,-0.21],[32.12,-0.22],[32.43,-0.22],[32.67,0.02],[32.82,-0.01],[33.06,-0.12],[33.37,-0.20],[33.69,-0.22],[34.00,-0.28],[34.32,-0.33],[34.63,-0.38],[34.95,-0.44],[35.26,-0.46],[35.58,-0.49],[35.81,-0.46],[36.05,-0.38],[36.28,-0.30],[36.52,-0.28],[36.83,-0.29],[37.15,-0.36],[37.30,0.04],[37.54,0.03],[37.78,0.02],[38.01,0.10],[38.25,0.19],[38.56,0.12],[38.88,0.04],[39.19,-0.04],[39.51,-0.12],[39.74,-0.14],[39.90,-0.14]];
const b6_flow = [[1.38,0],[1.53,2.3],[1.61,7.0],[1.68,3.7],[1.76,5.7],[1.84,3.0],[1.99,2.3],[2.14,1.7],[2.22,3.7],[2.30,2.0],[2.37,16.3],[2.42,27.0],[2.48,27.0],[2.53,6.3],[2.60,1.7],[2.73,1.7],[2.79,10.7],[2.88,1.7],[2.99,0.7],[3.14,1.0],[3.29,4.3],[3.37,1.7],[3.52,1.0],[3.68,2.3],[3.83,1.7],[3.98,3.0],[4.06,6.3],[4.13,2.3],[4.21,8.3],[4.29,5.0],[4.36,28.3],[4.44,25.0],[4.52,3.0],[4.59,1.7],[4.75,0.3],[5.05,0.3],[5.28,1.7],[5.39,8.3],[5.48,1.0],[5.67,0],[5.97,0.3],[6.89,0],[15.01,0],[15.16,0.7],[15.34,13.0],[15.44,23.3],[15.54,5.0],[15.70,2.3],[15.85,8.3],[15.93,3.7],[16.05,9.7],[16.16,2.3],[16.39,1.0],[16.62,2.3],[16.85,1.0],[17.15,0.7],[17.58,4.3],[17.69,1.0],[17.92,0.3],[18.15,3.7],[18.30,0.3],[18.53,0],[19.75,0],[19.91,2.3],[20.02,7.7],[20.14,2.3],[20.29,2.3],[20.44,0.3],[20.83,0],[22.45,0],[22.53,1.0],[23.00,0],[23.11,12.3],[23.20,1.0],[23.47,0],[24.25,0],[24.38,3.0],[24.49,0.3],[24.65,1.0],[24.73,6.3],[24.81,1.0],[24.96,2.3],[25.07,5.0],[25.20,2.3],[25.39,8.0],[25.51,1.7],[25.67,2.3],[25.83,3.0],[25.98,1.0],[26.11,4.7],[26.22,1.0],[26.46,0.7],[26.77,0.3],[26.93,1.7],[27.01,12.3],[27.08,5.0],[27.16,9.0],[27.24,2.3],[27.40,3.7],[27.56,5.7],[27.68,16.0],[27.76,3.7],[27.87,1.0],[28.03,0.3],[28.66,2.3],[28.78,12.3],[28.86,9.7],[28.97,5.7],[29.05,7.7],[29.13,2.3],[29.29,1.7],[29.52,0.3],[30.07,0],[30.17,1.7],[30.31,0],[32.67,0],[32.75,4.3],[32.84,0.3],[33.22,0],[33.53,0.3],[33.58,3.0],[33.69,0.3],[34.00,0],[37.23,0],[37.30,12.3],[37.38,3.7],[37.54,2.3],[37.69,3.7],[37.86,4.3],[38.01,6.0],[38.09,3.7],[38.25,3.0],[38.41,3.7],[38.56,4.3],[38.72,1.7],[38.96,1.0],[39.19,0.3],[39.51,0],[39.90,0]];
const b6_ontw = [[4.06,-0.227],[23.69,-0.227],[23.69,0.93],[24.18,0.93],[24.18,-0.227],[27.24,-0.227],[27.24,-0.20],[28.10,-0.20],[28.10,-0.227],[32.43,-0.227],[32.43,0.93],[32.79,0.93],[32.79,-0.227],[39.9,-0.227]];

// ---------- styling ----------
const FONT = '"Liberation Sans", Arial, sans-serif';
const TEXT = '#1e1e1e';
const PLOT_BG = '#c0c0c0';
const GRID = '#8c8c8c';
const GREEN = '#178a17';
const SLATE = '#2b5e6c';
const STEEL = '#3d6ea6';
const OLIVE = '#6a6a3a';
const TEAL = '#2a9398';
const ORANGE = '#ee8a46';
const DOT_BLUE = '#3434ee';
const FLOW_BLUE = '#0000ff';
const DASH_BLUE = '#3a5cff';
const RED = '#ff0000';
const MAROON = '#7a0000';

const pts = arr => arr.map(([x, y]) => ({ x, y }));
const flat = v => [{ x: 0, y: v }, { x: X_MAX, y: v }];

function line(label, data, color, width, opts = {}) {
  return Object.assign({ label, data, color, width, dash: [], axis: 'y', order: 3, legend: true }, opts);
}
const DOTS = [2, 2];
const DASHES = [7, 4];

function extras(upper, redDot, ontw) {
  return [
    line('', flat(redDot), '#ff3a3a', 1.2, { dash: DOTS, order: 7, legend: false }),
    line('', flat(upper), MAROON, 3, { order: 5, legend: false }),
    line('', pts(ontw), RED, 3, { order: 4, legend: false })
  ];
}

const panels = [
  {
    key: 'b2', title: 'Blok 2', top: 0, height: 423,
    plot: { left: 134, right: 1068, top: 90, bottom: 380 },
    titleY: 20, legendY: 48, legendX: [186, 1106],
    leftTitleX: 71, rightTitleX: 1135,
    note: { text: 'ontw. niveau', x: 8.75, y: -0.10 },
    series: [
      line('021p1 GWS', pts(b2_gws021), GREEN, 2.5, { order: 3 }),
      line('022p1 GWS', pts(b2_gws022), SLATE, 2.5, { order: 2 }),
      line('meetsloot', flat(B2_SLOOT), DASH_BLUE, 1.3, { dash: DASHES, order: 6, marker: true }),
      line('021p2 WVP', pts(b2_wvp021), DOT_BLUE, 1.6, { dash: DOTS, order: 8 }),
      line('003p2 WVP', pts(b2_wvp003), ORANGE, 1.6, { dash: DOTS, order: 9 }),
      line('Regelput 02 afvoer (mm/d)', pts(b2_flow), FLOW_BLUE, 2.2, { axis: 'y2', order: 1 }),
      ...extras(B2_UPPER, B2_RED_DOT, b2_ontw)
    ]
  },
  {
    key: 'b3', title: 'Blok 3', top: 423, height: 395,
    plot: { left: 137, right: 1066, top: 496, bottom: 787 },
    titleY: 441, legendY: 474, legendX: [251, 1064],
    leftTitleX: 72, rightTitleX: 1129,
    note: { text: 'ontw.niveau', x: 8.16, y: -0.14 },
    series: [
      line('031p1 GWS', pts(b3_gws031), STEEL, 2.5, { order: 2 }),
      line('032p1 GWS', pts(b3_gws032), OLIVE, 1.2, { order: 3 }),
      line('meetsloot', flat(B3_SLOOT), DASH_BLUE, 1.3, { dash: DASHES, order: 6, marker: true }),
      line('003p2 WVP', pts(b3_wvp003), ORANGE, 1.6, { dash: DOTS, order: 9 }),
      line('Regelput 03 afvoer (mm/d)', pts(b3_flow), FLOW_BLUE, 2.2, { axis: 'y2', order: 1 }),
      ...extras(B3_UPPER, B3_RED_DOT, b3_ontw)
    ]
  },
  {
    key: 'b5', title: 'Blok 5', top: 818, height: 404,
    plot: { left: 130, right: 1058, top: 901, bottom: 1199 },
    titleY: 841, legendY: 865, legendX: [169, 1128],
    leftTitleX: null, rightTitleX: 1123,
    note: { text: 'ontw.-niveau', x: 8.12, y: -0.07 },
    series: [
      line('051p1 GWS', pts(b5_gws051), GREEN, 2.5, { order: 3 }),
      line('052p1 GWS', pts(b5_gws052), TEAL, 1.2, { order: 2 }),
      line('sloot beneden meetstuw', flat(B5_SLOOT), DASH_BLUE, 1.3, { dash: DASHES, order: 6, marker: true }),
      line('002p2 WVP', pts(b5_wvp002), DOT_BLUE, 1.6, { dash: DOTS, order: 8 }),
      line('003p2 WVP', pts(b5_wvp003), ORANGE, 1.6, { dash: DOTS, order: 9 }),
      line('Regelput 05 afvoer (mm/d)', pts(b5_flow), FLOW_BLUE, 2.2, { axis: 'y2', order: 1 }),
      ...extras(B5_UPPER, B5_RED_DOT, b5_ontw)
    ]
  },
  {
    key: 'b6', title: 'Blok 6', top: 1222, height: 418,
    plot: { left: 128, right: 1059, top: 1311, bottom: 1612 },
    titleY: 1239, legendY: 1275, legendX: [169, 1128],
    leftTitleX: null, rightTitleX: 1124,
    note: { text: 'ontw. niveau', x: 7.96, y: -0.06 },
    series: [
      line('061p1 GWS', pts(b6_gws061), GREEN, 2.5, { order: 3 }),
      line('062p1 GWS', pts(b6_gws062), TEAL, 1.2, { order: 2 }),
      line('sloot beneden meetstuw', flat(B6_SLOOT), DASH_BLUE, 1.3, { dash: DASHES, order: 6, marker: true }),
      line('002p2 WVP', pts(b6_wvp002), DOT_BLUE, 1.6, { dash: DOTS, order: 8 }),
      line('003p2 WVP', pts(b6_wvp003), ORANGE, 1.6, { dash: DOTS, order: 9 }),
      line('Regelput 06 afvoer (mm/d)', pts(b6_flow), FLOW_BLUE, 2.2, { axis: 'y2', order: 1 }),
      ...extras(B6_UPPER, B6_RED_DOT, b6_ontw)
    ]
  }
];

// the x axis box must be tall enough for its labels, otherwise Chart.js clips them
const X_AXIS_H = 30;
const CANVAS_EXTRA = 16;
const SAMPLE_LEN = 36;
const SAMPLE_GAP = 4;

function drawLegend(ctx, items, y, x0, x1) {
  ctx.save();
  ctx.font = '15px ' + FONT;
  const widths = items.map(it => ctx.measureText(it.label).width);
  const used = widths.reduce((a, b) => a + b, 0) + items.length * (SAMPLE_LEN + SAMPLE_GAP);
  const gap = (x1 - x0 - used) / (items.length - 1);
  let x = x0;
  items.forEach((it, i) => {
    ctx.beginPath();
    ctx.setLineDash(it.dash);
    ctx.strokeStyle = it.color;
    ctx.lineWidth = Math.max(it.width, 1.4);
    ctx.moveTo(x, y + 0.5);
    ctx.lineTo(x + SAMPLE_LEN, y + 0.5);
    ctx.stroke();
    if (it.marker) {
      ctx.fillStyle = '#1a1aa0';
      ctx.fillRect(x + SAMPLE_LEN / 2 - 2, y - 1.5, 4, 4);
    }
    ctx.setLineDash([]);
    ctx.fillStyle = TEXT;
    ctx.textBaseline = 'middle';
    ctx.fillText(it.label, x + SAMPLE_LEN + SAMPLE_GAP, y + 1);
    x += SAMPLE_LEN + SAMPLE_GAP + widths[i] + gap;
  });
  ctx.restore();
}

function rotatedText(ctx, text, x, y) {
  ctx.save();
  ctx.translate(x, y);
  ctx.rotate(-Math.PI / 2);
  ctx.font = '15px ' + FONT;
  ctx.fillStyle = TEXT;
  ctx.textAlign = 'center';
  ctx.textBaseline = 'middle';
  ctx.fillText(text, 0, 0);
  ctx.restore();
}

function decor(p) {
  return {
    id: 'decor_' + p.key,
    beforeDraw(chart) {
      const { ctx, chartArea: a } = chart;
      ctx.save();
      ctx.fillStyle = PLOT_BG;
      ctx.fillRect(a.left, a.top, a.right - a.left, a.bottom - a.top);
      ctx.restore();
    },
    afterDatasetsDraw(chart) {
      const { ctx, scales } = chart;
      ctx.save();
      ctx.font = '15px Lato, "Open Sans", sans-serif';
      ctx.fillStyle = '#f01818';
      ctx.textBaseline = 'middle';
      ctx.fillText(p.note.text, scales.x.getPixelForValue(p.note.x), scales.y.getPixelForValue(p.note.y));
      ctx.restore();
    },
    afterDraw(chart) {
      const { ctx, chartArea: a } = chart;
      ctx.save();
      ctx.font = '17px ' + FONT;
      ctx.fillStyle = TEXT;
      ctx.textBaseline = 'middle';
      ctx.fillText(p.title, 15, p.titleY - p.top);
      ctx.restore();
      drawLegend(ctx, p.series.filter(s => s.legend), p.legendY - p.top, p.legendX[0], p.legendX[1]);
      const midY = (a.top + a.bottom) / 2;
      if (p.leftTitleX) rotatedText(ctx, 'hoogte (m NAP)', p.leftTitleX, midY);
      rotatedText(ctx, 'drainafvoer (mm/d)', p.rightTitleX, midY);
    }
  };
}

function axisTicks(values) {
  return scale => { scale.ticks = values.map(v => ({ value: v })); };
}

const page = document.getElementById('page');

panels.forEach(p => {
  const canvasH = p.height + CANVAS_EXTRA;
  const canvas = document.createElement('canvas');
  canvas.width = 1155;
  canvas.height = canvasH;
  canvas.style.top = p.top + 'px';
  canvas.style.width = '1155px';
  canvas.style.height = canvasH + 'px';
  page.appendChild(canvas);

  const tickFont = { family: FONT, size: 14 };
  const plotTop = p.plot.top - p.top;
  const plotBottom = p.plot.bottom - p.top;

  new Chart(canvas.getContext('2d'), {
    type: 'line',
    data: {
      datasets: p.series.map(s => ({
        label: s.label,
        data: s.data,
        yAxisID: s.axis,
        order: s.order,
        borderColor: s.color,
        borderWidth: s.width,
        borderDash: s.dash,
        borderJoinStyle: 'round',
        pointRadius: 0,
        fill: false,
        tension: 0,
        spanGaps: false
      }))
    },
    options: {
      responsive: false,
      animation: false,
      devicePixelRatio: 1,
      events: [],
      layout: {
        padding: { left: 0, right: 0, top: plotTop, bottom: canvasH - plotBottom - X_AXIS_H }
      },
      plugins: { legend: { display: false }, tooltip: { enabled: false }, title: { display: false } },
      scales: {
        x: {
          type: 'linear', min: 0, max: X_MAX,
          afterBuildTicks: axisTicks(MONTH_TICKS),
          afterFit: s => { s.height = X_AXIS_H; },
          grid: { color: GRID, lineWidth: 1, tickLength: 5, tickColor: '#000' },
          border: { color: '#000', width: 1 },
          ticks: {
            font: tickFont, color: TEXT, padding: 5, autoSkip: false, maxRotation: 0,
            callback: v => MONTH_LABELS[MONTH_TICKS.indexOf(v)]
          }
        },
        y: {
          position: 'left', min: -1.2, max: 1.2,
          afterBuildTicks: axisTicks(LEVEL_TICKS),
          afterFit: s => { s.width = p.plot.left; },
          grid: { color: GRID, lineWidth: 1, tickLength: 5, tickColor: '#000' },
          border: { color: '#000', width: 1 },
          ticks: { font: tickFont, color: TEXT, padding: 5, callback: v => v.toFixed(1) }
        },
        y2: {
          position: 'right', min: 0, max: 60, reverse: true,
          afterBuildTicks: axisTicks(FLOW_TICKS),
          afterFit: s => { s.width = 1155 - p.plot.right; },
          grid: { drawOnChartArea: false, tickLength: 5, tickColor: '#000' },
          border: { color: '#000', width: 1 },
          ticks: { font: tickFont, color: TEXT, padding: 5, callback: v => v.toFixed(1) }
        }
      }
    },
    plugins: [decor(p)]
  });
});

// frame around the four blocks and the separators between them
const frame = document.createElement('div');
frame.className = 'frame';
Object.assign(frame.style, { left: '4px', top: '5px', width: '1148px', height: '1632px' });
page.appendChild(frame);
[423, 818, 1222].forEach(y => {
  const sep = document.createElement('div');
  sep.className = 'sep';
  Object.assign(sep.style, { left: '4px', top: y + 'px', width: '1148px' });
  page.appendChild(sep);
});
</script>
</body>
</html>
